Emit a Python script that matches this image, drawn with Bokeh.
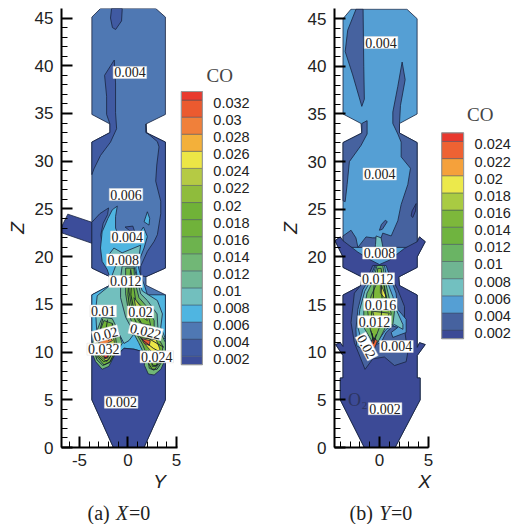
from bokeh.embed import file_html
from bokeh.resources import INLINE
from bokeh.layouts import column, row
from bokeh.models import ColumnDataSource, FixedTicker, Label, Range1d
from bokeh.plotting import figure
from bokeh.core.properties import value

# ---------- colour legend values ----------
a_levels = [0.002, 0.004, 0.006, 0.008, 0.01, 0.012, 0.014, 0.016, 0.018, 0.02,
            0.022, 0.024, 0.026, 0.028, 0.03, 0.032]
a_level_text = ["0.002", "0.004", "0.006", "0.008", "0.01", "0.012", "0.014", "0.016",
                "0.018", "0.02", "0.022", "0.024", "0.026", "0.028", "0.03", "0.032"]
a_band_colors = ["#3c4d9a", "#405aa2", "#4f78b3", "#4fb5e1", "#72bfbe", "#70b896", "#71b776",
                 "#6db34e", "#70b23a", "#70b238", "#8fbc3c", "#b5ca44", "#ece646", "#f3b03a",
                 "#f0803a", "#eb5a2f", "#e93a2e"]
b_levels = [0.002, 0.004, 0.006, 0.008, 0.01, 0.012, 0.014, 0.016, 0.018, 0.02, 0.022, 0.024]
b_level_text = ["0.002", "0.004", "0.006", "0.008", "0.01", "0.012", "0.014", "0.016",
                "0.018", "0.02", "0.022", "0.024"]
b_band_colors = ["#3c4a96", "#46629f", "#559fd4", "#72c0c0", "#6fb592", "#6ab464", "#6fb43f",
                 "#7db83b", "#a9cb42", "#ece94b", "#f5a13b", "#ee6233", "#e8382e"]

z_ticks = [0, 5, 10, 15, 20, 25, 30, 35, 40, 45]
a_x_ticks = [-5, 0, 5]
b_x_ticks = [0, 5]

# ---------- panel (a): X=0, contour polygons as (Y, Z) with the band they belong to ----------
a_outline = [(-2.83, 46), (2.86, 46), (3.86, 45.1), (3.86, 34.9), (1.86, 33.9), (1.86, 33), (3.86, 32),
             (3.86, 18.8), (1.86, 17.9), (1.86, 17), (3.86, 16), (3.86, 5), (1.65, 0), (-1.5, 0),
             (-3.72, 5), (-3.72, 16), (-1.86, 17), (-1.86, 17.9), (-3.72, 18.8), (-3.72, 32),
             (-1.86, 33), (-1.86, 33.9), (-3.72, 34.9), (-3.72, 45.1)]
a_inlet = [(-6.85, 23.1), (-6.2, 24.45), (-3.72, 23.6), (-3.72, 21.4), (-6.85, 22.5)]
a_top_blob = [(-1.69, 46), (-0.59, 46), (-0.66, 44.7), (-1.27, 43.8), (-1.6, 44), (-1.8, 45)]
a_left_streak = [(-1.41, 40.6), (-1.28, 38.2), (-1.28, 35.1), (-1.17, 33.4), (-1.8, 32), (-2.83, 30.6),
                 (-3.5, 29.2), (-3.72, 28.6), (-3.72, 32), (-1.86, 33), (-1.86, 33.9), (-2.2, 34.9),
                 (-2.2, 36.8), (-2.41, 39), (-1.79, 40)]
a_right_band = [(1.86, 33.9), (1.86, 33), (3.86, 32), (3.86, 18.8), (1.86, 17.9), (1.31, 18), (1.31, 19),
                (2, 20.55), (2.7, 21.6), (3.03, 22.3), (3.38, 24.5), (3.38, 25.8), (2.86, 27.9),
                (2.97, 29.6), (3.2, 31.5), (3.03, 32.05), (1.93, 33)]
a_left_low = [(-2.0, 25.1), (-2.9, 24.5), (-3.72, 23.6), (-3.72, 18.8), (-1.86, 17.9), (-1.55, 18.3),
              (-2.1, 19.8), (-2.6, 20.9), (-2.8, 22.3), (-2.55, 23.5), (-2.1, 24.4)]
a_bottom = [(-3.72, 10.3), (-0.93, 9.86), (-0.41, 10.4), (0.62, 10.3), (1.66, 10), (3.86, 10.5),
            (3.86, 5), (1.65, 0), (-1.5, 0), (-3.72, 5)]
a_sky = [(-1.1, 25.3), (-1.62, 24.9), (-2.07, 24), (-2.66, 22.6), (-2.83, 20.9), (-2.66, 19.5),
         (-2.14, 18.65), (-1.86, 17.8), (-1.86, 17), (-3.72, 16), (-3.72, 10.5), (-0.93, 9.86),
         (-0.41, 10.4), (0.62, 10.3), (1.66, 10), (3.86, 10.5), (3.86, 16), (2.0, 16), (1.7, 17),
         (1.3, 18), (1.0, 19.2), (1.66, 20.9), (2, 22.1), (1.6, 23.1), (0.8, 21.9), (-0.07, 21.65),
         (-0.93, 22.1), (-1.28, 23), (-1.28, 24.2)]
a_sky_blob = [(1.66, 23.65), (2, 24.7), (2.24, 24), (2.17, 23.3)]
a_dark_mark = [(-0.3, 23.1), (0.5, 23.2), (0.7, 22.6), (0.2, 22.7)]
a_teal = [(-1.97, 20.2), (-1.45, 20.9), (-0.6, 20.4), (1.31, 21.2), (1.14, 20), (0.8, 18.8), (0.97, 17.8),
          (1.48, 16.4), (3.03, 15.4), (3.55, 14), (3.38, 12.6), (3.86, 11.4), (0.62, 11.9), (0.1, 11.2),
          (-0.41, 10.9), (-1.1, 12.3), (-3.2, 11.9), (-3.34, 14.3), (-3.17, 15.9), (-1.97, 16.9),
          (-1.72, 17.8), (-1.28, 19), (-1.8, 19.5)]
a_col_1 = [(-0.6, 19), (0.62, 19), (0.9, 17.8), (1.31, 16.1), (2, 15.4), (3, 14), (3.1, 12.3), (0.62, 12),
           (-0.24, 13.65), (-0.76, 15.7), (-0.76, 17.8)]
a_col_2 = [(-0.24, 18.8), (0.62, 18.8), (0.69, 17.45), (1.14, 15.7), (2, 14.7), (2.7, 13.3), (2.7, 12.3),
           (0.62, 12.45), (0.1, 14), (-0.24, 16.1)]
a_col_3 = [(0.28, 18.65), (0.55, 17.1), (0.8, 15.4), (2, 14.2), (2.34, 12.8), (1.3, 13), (0.45, 14.3), (0.1, 16.4)]
a_col_4 = [(0.62, 15.7), (1.66, 14.3), (2, 13.3), (1.48, 13.65), (0.8, 14.7)]
a_llobe_1 = [(-2.66, 13.65), (-1.62, 13.5), (-1.03, 12.3), (-0.59, 10.9), (-1.28, 9.86), (-1.97, 8.5),
             (-2.66, 8.2), (-3.34, 9), (-3.69, 9.86), (-3.69, 10.9), (-3.17, 12.3)]
a_llobe_2 = [(-2.48, 13.3), (-1.62, 13), (-1.28, 11.6), (-1.1, 10.2), (-1.79, 9), (-2.48, 8.65),
             (-3.17, 9.5), (-3.34, 10.9)]
a_llobe_3 = [(-2.3, 12.5), (-1.6, 12), (-1.4, 11), (-1.6, 9.8), (-2.2, 9), (-3, 9.7), (-3.1, 10.8)]
a_llobe_4 = [(-3.0, 11), (-1.9, 11.6), (-1.6, 11.2), (-2.9, 10.5)]
a_llobe_5 = [(-2.5, 9.7), (-2.1, 9.8), (-2.05, 9.4), (-2.4, 9.3)]
a_rlobe_1 = [(0.62, 11.9), (3.3, 12.2), (3.86, 11), (3.86, 9.3), (3.4, 8.2), (2.7, 7.6), (2.1, 7.7),
             (1.7, 8.6), (1.66, 9.8), (1.1, 11)]
a_rlobe_2 = [(1, 11.7), (3, 11.7), (3.6, 10.6), (3.4, 9), (2.7, 8.1), (2.2, 8.3), (2, 9.6), (1.5, 10.8)]
a_rlobe_3 = [(1.3, 11.5), (2.9, 11.3), (3.3, 10.3), (2.8, 9.7), (2.2, 10.3), (1.7, 10.9)]
a_rlobe_4 = [(1.4, 11.4), (2.3, 11.2), (2.2, 10.7), (1.7, 10.9)]
a_rlobe_5 = [(2.4, 9.5), (3.1, 9.3), (2.9, 8.5), (2.5, 8.5)]

a_regions = [(2, a_outline), (0, a_inlet), (1, a_top_blob), (1, a_left_streak), (1, a_right_band),
             (1, a_left_low), (3, a_sky), (0, a_bottom), (3, a_sky_blob), (1, a_dark_mark), (4, a_teal),
             (5, a_col_1), (7, a_col_2), (9, a_col_3), (11, a_col_4),
             (6, a_llobe_1), (9, a_llobe_2), (11, a_llobe_3), (14, a_llobe_4), (16, a_llobe_5),
             (6, a_rlobe_1), (9, a_rlobe_2), (12, a_rlobe_3), (15, a_rlobe_4), (8, a_rlobe_5)]

# extra contour lines in the dense parts of panel (a)
a_contours = [
    [(-3.5, 10.2), (-3.2, 9.2), (-2.6, 8.6), (-1.9, 8.9), (-1.3, 10.1)],
    [(-3.3, 10.2), (-3, 9.5), (-2.5, 9), (-2, 9.2), (-1.55, 10.1)],
    [(-3.1, 10.2), (-2.8, 9.7), (-2.4, 9.4), (-2.05, 9.5), (-1.75, 10.1)],
    [(1.9, 10.2), (2, 9), (2.5, 8.2), (3, 8.2), (3.5, 9), (3.7, 10)],
    [(2.1, 10.2), (2.25, 9.2), (2.6, 8.6), (3, 8.6), (3.3, 9.3), (3.45, 10)],
    [(2.3, 10.2), (2.5, 9.5), (2.75, 9), (3, 9.1), (3.15, 9.6), (3.3, 10)],
    [(0.9, 12), (1.6, 11.2), (2.6, 10.4), (3.5, 9.9)],
    [(1.2, 12), (2, 11.5), (3, 10.9), (3.7, 10.5)],
    [(0.1, 18), (0, 16), (0.2, 14.5), (0.9, 13)],
    [(0.4, 18), (0.3, 16), (0.6, 14.5), (1.4, 13)],
    [(-2.6, 13.5), (-2.9, 12.2), (-3.1, 11.2)],
    [(-2.1, 13.4), (-2.3, 12.2), (-2.7, 11.3)],
    [(-1.6, 13), (-1.7, 12), (-2, 11.2)],
]

a_label_y = [0.2, -0.2, -0.07, -0.48, -0.24, -2.55, 1.3, -2.3, 1.83, -2.5, 2.97, -0.7]
a_label_z = [39.3, 26.5, 22.05, 19.65, 17.4, 14.3, 14.2, 11.9, 12.2, 10.3, 9.5, 4.75]
a_label_text = ["0.004", "0.006", "0.004", "0.008", "0.012", "0.01", "0.02", "0.02", "0.022", "0.032",
                "0.024", "0.002"]
a_label_angle = [0, 0, 0, 0, 0, 0, 0, 15, -13, 0, 0, 0]

# ---------- panel (b): Y=0, contour polygons as (X, Z) ----------
b_outline = [(-2.9, 46), (2.8, 46), (3.85, 45), (3.85, 35), (2.05, 34), (2.05, 33), (3.85, 32), (3.86, 21.55),
             (4.1, 22.1), (4.68, 21.6), (3.86, 20), (3.86, 18.9), (1.98, 17.9), (2.05, 17), (3.86, 16),
             (3.86, 10.5), (4.1, 11), (4.68, 10.8), (3.86, 9.65), (3.86, 7.3), (4.16, 7.3), (4.16, 5),
             (1.6, 0), (-1.54, 0), (-4, 5), (-4, 7.3), (-3.72, 7.3), (-3.72, 9.65), (-4.47, 10.8),
             (-4, 11), (-3.72, 10.6), (-3.72, 16), (-1.88, 17), (-1.8, 17.9), (-3.72, 18.9), (-3.72, 20),
             (-4.54, 21.7), (-4, 22.1), (-3.72, 21.6), (-3.72, 32), (-1.8, 33), (-1.88, 34), (-3.72, 35),
             (-3.72, 45)]
b_top_left = [(-2.39, 46), (-3.24, 43.8), (-3.5, 41.55), (-2.73, 39.1), (-1.8, 35.8), (-1.54, 36.55),
              (-1.6, 40), (-1.67, 46)]
b_left_low = [(-1.8, 34), (-1.26, 34.3), (-1.26, 32.9), (-1.88, 31.7), (-3.07, 30), (-3.3, 27.6),
              (-3.5, 25.8), (-3.72, 25.9), (-3.72, 32), (-1.8, 33)]
b_right = [(2.32, 40.45), (1.88, 37.9), (1.37, 35.2), (1.37, 34), (1.88, 32.9), (2.22, 32.05), (2.22, 30.5),
           (3.17, 29.3), (2.9, 27.6), (2.22, 25.5), (1.88, 23.8), (1.2, 22.2), (0.34, 22.5), (0.17, 22),
           (-0.68, 22), (-1.37, 22.1), (-2.2, 21), (-2.4, 22), (-2.9, 22.8), (-3.72, 22.2), (-3.72, 21),
           (3.86, 21), (3.85, 32), (2.05, 33), (2.05, 34), (2.15, 35.9), (2.63, 38.6)]
b_small_1 = [(0, 22.8), (0.3, 22.9), (0.8, 23.7), (0.6, 23.85), (0.2, 23.4)]
b_small_2 = [(3.24, 24.3), (3.34, 24.83), (3.75, 25.6), (3.69, 24.83), (3.41, 24.14)]
b_streak = [(-0.34, 22.2), (0.17, 22), (0.4, 20.8), (0.2, 20.4), (-0.5, 20.4), (-0.4, 21.3)]
b_lower = [(-3.72, 21.7), (-2.2, 20.5), (-0.85, 19.65), (0, 19.2), (1, 19.65), (2.56, 20.9), (3.86, 21.6),
           (4.1, 22.1), (4.68, 21.6), (3.86, 20), (3.86, 18.9), (1.98, 17.9), (2.05, 17), (3.86, 16),
           (3.86, 10.5), (4.1, 11), (4.68, 10.8), (3.86, 9.65), (3.86, 7.3), (4.16, 7.3), (4.16, 5),
           (1.6, 0), (-1.54, 0), (-4, 5), (-4, 7.3), (-3.72, 7.3), (-3.72, 9.65), (-4.47, 10.8),
           (-4, 11), (-3.72, 10.6), (-3.72, 16), (-1.88, 17), (-1.8, 17.9), (-3.72, 18.9), (-3.72, 20),
           (-4.54, 21.7), (-4, 22.1)]
b_plume_1 = [(-2.56, 16.2), (-2.9, 13.1), (-2.56, 11), (-1.47, 8.2), (-0.68, 9.3), (0.51, 9.5), (1.54, 8.6),
             (2.73, 9), (2.9, 10), (2.56, 12.4), (2.56, 14.8), (1.88, 16.55), (1.2, 17.9), (0.51, 19.1),
             (-0.68, 19.1), (-1.19, 17.9), (-2, 16.9)]
b_plume_2 = [(-0.44, 19.1), (0.68, 19.1), (1.2, 17.6), (1.7, 16.2), (1.88, 14.5), (2.73, 13.45), (2.73, 12.07),
             (1.37, 11.55), (1.2, 12.07), (1.88, 12.6), (1.37, 12.75), (0.68, 12.07), (0.17, 11), (-0.68, 10.7),
             (-1.54, 10.17), (-2.33, 10.7), (-2.4, 12.4), (-2.2, 14.5), (-1.7, 16.55), (-1, 17.75)]
b_plume_3 = [(-0.34, 19.1), (0.51, 19.1), (0.85, 17.25), (1.37, 15.85), (1.7, 14.5), (2.4, 12.9), (2.4, 12.4),
             (1.54, 12.9), (0.68, 12.4), (0, 11.4), (-0.68, 11.2), (-1.88, 11.4), (-2.2, 12.6), (-2, 14.5),
             (-1.5, 16.4), (-0.85, 17.6)]
b_plume_4 = [(-0.24, 19.1), (0.34, 19.1), (0.68, 17.07), (1, 15.7), (1.54, 14.3), (1.37, 12.9), (0.68, 12.75),
             (-0.17, 11), (-0.68, 11), (-1.6, 12.6), (-1.6, 14.3), (-1.27, 16.2), (-0.68, 17.4)]
b_plume_5 = [(-0.17, 18.8), (0.17, 18.8), (0.51, 16.7), (0.85, 15.2), (1.2, 14.1), (1, 13.1), (0, 12.6),
             (-0.51, 11.2), (-1, 12.6), (-1.2, 14.3), (-0.85, 15.9), (-0.34, 17.07)]
b_plume_6 = [(0.1, 17.25), (0.68, 15.85), (0.51, 15.7), (0.1, 16.2)]
b_plume_7 = [(-0.68, 14.3), (1, 14.1), (0.7, 13.3), (-0.5, 13.5)]
b_core = [(-0.68, 11.5), (-0.2, 11.2), (-0.5, 10.4), (-0.85, 10.7)]

b_regions = [(2, b_outline), (1, b_top_left), (1, b_left_low), (1, b_right), (0, b_small_2), (1, b_small_1),
             (3, b_streak), (0, b_lower), (1, b_plume_1), (2, b_plume_2), (3, b_plume_3), (5, b_plume_4),
             (7, b_plume_5), (9, b_plume_6), (8, b_plume_7), (11, b_core)]

b_contours = [
    [(-0.5, 18), (-0.6, 16), (-0.8, 14), (-0.9, 12.5)],
    [(0.2, 18.5), (0.2, 17), (0.3, 15), (0.1, 13)],
    [(0.5, 17), (0.7, 15.5), (0.9, 14.3)],
    [(-1.1, 14.7), (0, 14.9), (1.1, 14.6)],
    [(-1.2, 13.1), (0, 13.4), (1, 13)],
    [(-0.9, 12.3), (-0.6, 11.2), (-0.3, 11.9)],
    [(-0.75, 12), (-0.6, 10.9), (-0.4, 11.5)],
]

b_label_x = [0.17, 0.03, 0, -0.17, 0.1, -0.5, -1.3, 1.74, 0.58]
b_label_z = [42.5, 28.7, 20.4, 17.7, 15, 13.2, 10.6, 10.6, 4.07]
b_label_text = ["0.004", "0.004", "0.008", "0.012", "0.016", "0.012", "0.02", "0.004", "0.002"]
b_label_angle = [0, 0, 0, 0, 0, 0, -62, 0, 0]


def panel(width, left, top, bottom, xr, zr, cb_range, x_ticks, x_minor, x_bounds, xlabel):
    p = figure(width=width, height=494, x_range=Range1d(*xr), y_range=Range1d(*zr),
               output_backend="svg", toolbar_location=None, min_border_left=left, min_border_right=0,
               min_border_top=top, min_border_bottom=bottom, outline_line_color=None,
               x_axis_label=xlabel, y_axis_label="Z")
    p.extra_y_ranges["cb"] = Range1d(*cb_range)
    p.grid.visible = False
    for ax in (p.xaxis[0], p.yaxis[0]):
        ax.axis_line_width = 2
        ax.major_tick_line_width = 2
        ax.minor_tick_line_width = 1
        ax.major_tick_in = 11
        ax.major_tick_out = 0
        ax.minor_tick_in = 6
        ax.minor_tick_out = 0
        ax.major_label_text_font = "Liberation Sans"
        ax.major_label_text_font_size = "17px"
        ax.major_label_text_color = "#222222"
        ax.axis_label_text_font = "Liberation Sans"
        ax.axis_label_text_font_style = "italic"
        ax.axis_label_text_font_size = "19px"
        ax.axis_label_text_color = "#222222"
    p.xaxis[0].ticker = FixedTicker(ticks=x_ticks, minor_ticks=x_minor)
    p.xaxis[0].bounds = x_bounds
    p.xaxis[0].major_label_overrides = {t: str(t) for t in x_ticks}
    p.yaxis[0].ticker = FixedTicker(ticks=z_ticks, minor_ticks=list(range(0, 46)))
    p.xaxis[0].major_label_standoff = 6
    p.yaxis[0].major_label_standoff = 8
    p.xaxis[0].axis_label_standoff = 2
    p.yaxis[0].axis_label_standoff = 4
    return p


def draw_regions(p, regions, colors, contours):
    src = ColumnDataSource(dict(xs=[[q[0] for q in r[1]] for r in regions],
                                ys=[[q[1] for q in r[1]] for r in regions],
                                color=[colors[r[0]] for r in regions]))
    p.patches("xs", "ys", source=src, fill_color="color", line_color="#18233f", line_width=0.8)
    p.multi_line([[q[0] for q in c] for c in contours], [[q[1] for q in c] for c in contours],
                 line_color="#14202a", line_width=0.9)


def draw_labels(p, xs, zs, texts, angles):
    for x, z, t, a in zip(xs, zs, texts, angles):
        p.add_layout(Label(x=x, y=z, text=t, angle=a, angle_units="deg", text_font="Liberation Serif",
                           text_font_size="14px", text_color="#222222", text_align="center",
                           text_baseline="middle", background_fill_color="white",
                           border_line_color="#dddddd", border_line_width=0.5, padding=1))


def draw_legend(p, levels, texts, colors, low, high, x0, x1, xtext):
    edges = [low] + levels + [high]
    p.quad(left=x0, right=x1, bottom=edges[:-1], top=edges[1:], fill_color=colors, line_color="#39465c",
           line_alpha=0.45, line_width=1, y_range_name="cb")
    p.quad(left=x0, right=x1, bottom=low, top=high, fill_color=None, line_color="#9a9a9a", line_width=1,
           y_range_name="cb")
    p.text(x=[xtext] * len(levels), y=levels, text=texts, text_font=value("Liberation Sans"),
           text_font_size="14.5px", text_color="#222222", text_baseline="middle", y_offset=3, y_range_name="cb")


# panel (a)
pa = panel(257, 61, 8, 42, (-6.85, 13.35), (0, 46), (-0.0087, 0.04273), a_x_ticks, list(range(-6, 6)),
           (-6.85, 5.1), "Y")
draw_regions(pa, a_regions, a_band_colors, a_contours)
draw_labels(pa, a_label_y, a_label_z, a_label_text, a_label_angle)
draw_legend(pa, a_levels, a_level_text, a_band_colors, 0.001, 0.033, 5.5, 7.67, 8.8)
pa.add_layout(Label(x=8.1, y=39, text="CO", text_font="Liberation Serif", text_font_size="19px",
                    text_color="#444444", text_baseline="middle"))

# panel (b)
pb = panel(257, 77, 8, 41, (-4.59, 13.8), (0, 46.07), (-0.01169, 0.0395), b_x_ticks, list(range(-4, 6)),
           (-4.59, 5), "X")
draw_regions(pb, b_regions, b_band_colors, b_contours)
draw_labels(pb, b_label_x, b_label_z, b_label_text, b_label_angle)
draw_legend(pb, b_levels, b_level_text, b_band_colors, 0.001, 0.025, 6.36, 8.6, 9.72)
pb.add_layout(Label(x=8.95, y=34.9, text="CO", text_font="Liberation Serif", text_font_size="19px",
                    text_color="#444444", text_baseline="middle"))
pb.add_layout(Label(x=-3.2, y=5, text="O", text_font="Liberation Serif", text_font_size="18px",
                    text_color="#2c3560", text_baseline="middle"))
pb.add_layout(Label(x=-1.8, y=4.4, text="2", text_font="Liberation Serif", text_font_size="11px",
                    text_color="#2c3560", text_baseline="middle"))

# captions under the panels
cap = figure(width=514, height=30, x_range=Range1d(0, 514), y_range=Range1d(0, 30), output_backend="svg",
             toolbar_location=None, min_border=0, outline_line_color=None)
cap.axis.visible = False
cap.grid.visible = False
cap_x = [87, 115.6, 128.4, 349, 378.7, 390.4]
cap_text = ["(a)", "X", "=0", "(b)", "Y", "=0"]
cap_style = ["normal", "italic", "normal", "normal", "italic", "normal"]
cap.text(x=cap_x, y=[12] * 6, text=cap_text, text_font=value("Liberation Serif"), text_font_size="20px",
         text_font_style=cap_style, text_color="#222222", text_baseline="middle")

open("out.html", "w").write(file_html(column(row(pa, pb), cap), INLINE))
